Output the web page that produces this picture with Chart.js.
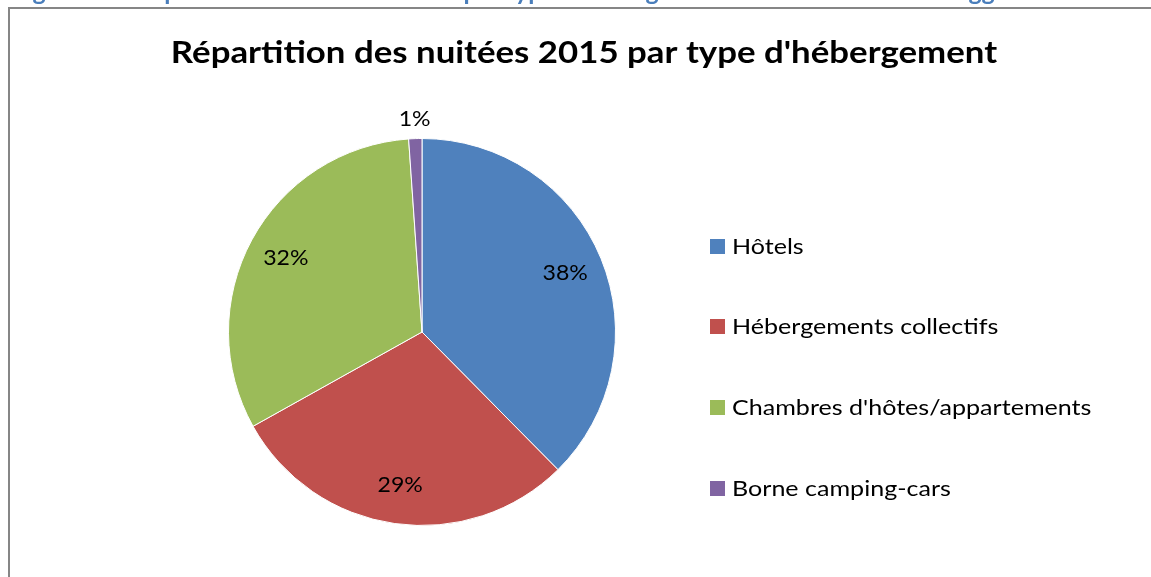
<!DOCTYPE html>
<html>
<head>
<meta charset="utf-8">
<script src="https://cdn.jsdelivr.net/npm/chart.js@4.4.1/dist/chart.umd.min.js"></script>
<style>
html,body{margin:0;padding:0;background:#fff;}
#wrap{position:relative;width:1151px;height:577px;}
</style>
</head>
<body>
<div id="wrap"><canvas id="c" width="1151" height="577"></canvas></div>
<script>
const headingText = "Figure 11 : Répartition des nuitées 2015 par type d'hébergement sur le territoire de l'Agglomération";
const chartTitle = "Répartition des nuitées 2015 par type d'hébergement";
const categories = ["Hôtels", "Hébergements collectifs", "Chambres d'hôtes/appartements", "Borne camping-cars"];
const shares = [37.6, 29.3, 32.0, 1.1];
const percentLabels = ["38%", "29%", "32%", "1%"];
const colors = ["#4F81BD", "#C0504D", "#9BBB59", "#8064A2"];

const FONT = "Lato, 'Open Sans', sans-serif";

function stretchedText(ctx, text, x, y, sx) {
  ctx.save();
  ctx.translate(x, y);
  ctx.scale(sx, 1);
  ctx.fillText(text, 0, 0);
  ctx.restore();
}

const decor = {
  id: 'decor',
  beforeDraw(chart) {
    const ctx = chart.ctx;
    ctx.save();
    ctx.fillStyle = '#fff';
    ctx.fillRect(0, 0, chart.width, chart.height);
    // cropped heading
    ctx.fillStyle = '#4A7EBB';
    ctx.font = "bold 25px " + FONT;
    ctx.textBaseline = 'alphabetic';
    ctx.textAlign = 'left';
    ctx.fillText(headingText, 12, 0);
    // frame
    ctx.strokeStyle = '#868686';
    ctx.lineWidth = 2;
    ctx.beginPath();
    ctx.moveTo(9, chart.height + 2);
    ctx.lineTo(9, 8);
    ctx.lineTo(chart.width + 2, 8);
    ctx.stroke();
    // title
    ctx.fillStyle = '#000';
    ctx.font = "bold 30px " + FONT;
    ctx.textAlign = 'center';
    ctx.textBaseline = 'middle';
    stretchedText(ctx, chartTitle, 584, 53, 1.16);
    ctx.restore();
  },
  afterDraw(chart) {
    const ctx = chart.ctx;
    const meta = chart.getDatasetMeta(0);
    ctx.save();
    ctx.fillStyle = '#000';
    ctx.font = "22px " + FONT;
    ctx.textAlign = 'center';
    ctx.textBaseline = 'middle';
    meta.data.forEach((arc, i) => {
      const p = arc.getProps(['x','y','startAngle','endAngle','outerRadius'], true);
      const mid = (p.startAngle + p.endAngle) / 2;
      let r = p.outerRadius * 0.8;
      if (shares[i] < 3) r = p.outerRadius + 20;
      const x = p.x + Math.cos(mid) * r;
      const y = p.y + Math.sin(mid) * r;
      stretchedText(ctx, percentLabels[i], x, y, 1.05);
    });
    // legend
    const lx = 710, ys = [246, 326, 407, 488];
    ctx.textAlign = 'left';
    ctx.font = "22px " + FONT;
    categories.forEach((name, i) => {
      ctx.fillStyle = colors[i];
      ctx.fillRect(lx, ys[i] - 7, 15, 15);
      ctx.fillStyle = '#000';
      stretchedText(ctx, name, lx + 22, ys[i] + 1, 1.14);
    });
    ctx.restore();
  }
};

new Chart(document.getElementById('c'), {
  type: 'pie',
  data: {
    labels: categories,
    datasets: [{
      data: shares,
      backgroundColor: colors,
      borderColor: '#ffffff',
      borderWidth: 1
    }]
  },
  options: {
    responsive: false,
    animation: false,
    devicePixelRatio: 1,
    layout: { padding: { left: 228, right: 535, top: 138, bottom: 51 } },
    plugins: {
      legend: { display: false },
      title: { display: false },
      tooltip: { enabled: false }
    }
  },
  plugins: [decor]
});
</script>
</body>
</html>
